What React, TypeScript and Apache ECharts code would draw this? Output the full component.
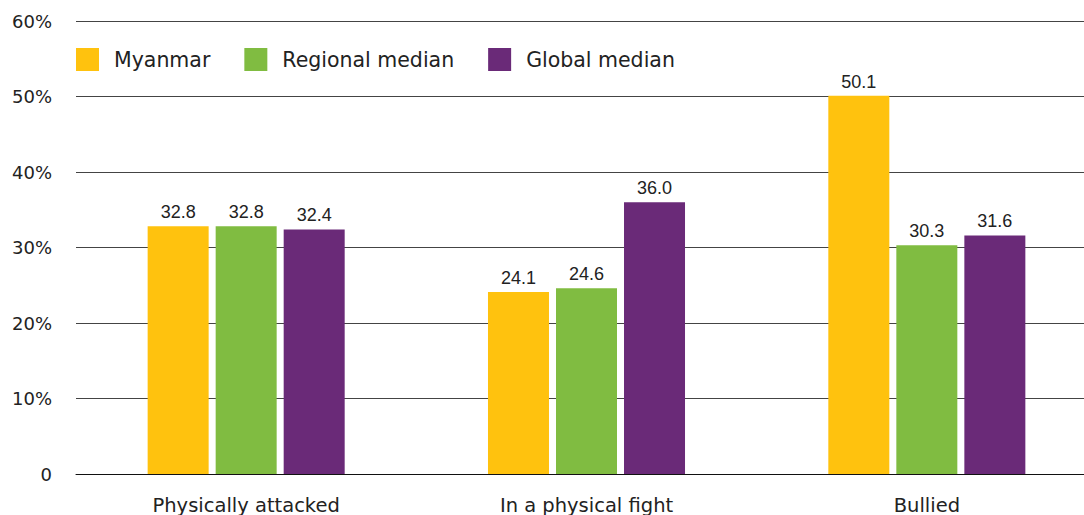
import React, { useEffect, useRef } from "react";
import * as echarts from "echarts";

const categories = ["Physically attacked", "In a physical fight", "Bullied"];
const myanmar = [32.8, 24.1, 50.1];
const regionalMedian = [32.8, 24.6, 30.3];
const globalMedian = [32.4, 36.0, 31.6];
const seriesNames = ["Myanmar", "Regional median", "Global median"];
const colors = ["#FFC20E", "#80BC41", "#6A2A78"];

export default function App() {
  const ref = useRef<HTMLDivElement>(null);
  useEffect(() => {
    if (!ref.current) return;
    const chart = echarts.init(ref.current, undefined, { renderer: "svg" });
    const axisFont = "DejaVu Sans";
    const valueFont = "Liberation Sans";
    const mk = (name: string, data: number[], color: string) => ({
      name,
      type: "bar",
      data,
      barWidth: 61,
      barGap: "11.5%",
      itemStyle: { color },
      label: {
        show: true,
        position: "top",
        distance: 5,
        formatter: (p: any) => p.value.toFixed(1),
        color: "#222",
        fontFamily: valueFont,
        fontSize: 18,
      },
    });
    chart.setOption({
      animation: false,
      backgroundColor: "#fff",
      color: colors,
      legend: {
        left: 76,
        top: 48,
        padding: 0,
        itemWidth: 23,
        itemHeight: 23,
        itemGap: 34,
        icon: "rect",
        textStyle: { fontFamily: axisFont, fontSize: 20.5, color: "#222", padding: [0, 0, 0, 10] },
        data: seriesNames,
      },
      grid: { left: 76, right: 0, top: 21, bottom: 40, containLabel: false },
      xAxis: {
        type: "category",
        data: categories,
        axisLine: { show: true, lineStyle: { color: "#111", width: 1 } },
        axisTick: { show: false },
        axisLabel: { fontFamily: axisFont, fontSize: 19.5, color: "#222", margin: 21 },
      },
      yAxis: {
        type: "value",
        min: 0,
        max: 60,
        interval: 10,
        axisLine: { show: false },
        axisTick: { show: false },
        splitLine: { lineStyle: { color: "#444", width: 1 } },
        axisLabel: {
          fontFamily: axisFont,
          fontSize: 18,
          color: "#222",
          margin: 24,
          padding: [6, 0, 0, 0],
          formatter: (v: number) => (v === 0 ? "0" : v + "%"),
        },
      },
      series: [
        mk(seriesNames[0], myanmar, colors[0]),
        mk(seriesNames[1], regionalMedian, colors[1]),
        mk(seriesNames[2], globalMedian, colors[2]),
      ],
    });
    return () => chart.dispose();
  }, []);
  return (
    <div
      style={{ position: "absolute", left: 0, top: 0, width: 1084, height: 515, overflow: "hidden", background: "#fff" }}
    >
      <div ref={ref} style={{ width: 1097, height: 515 }} />
    </div>
  );
}
